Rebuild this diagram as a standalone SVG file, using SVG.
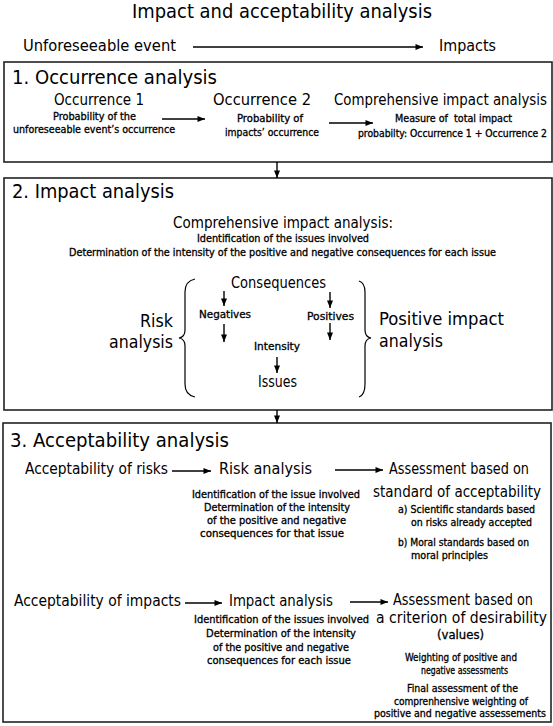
<svg xmlns="http://www.w3.org/2000/svg" width="553" height="726" viewBox="0 0 553 726">
<defs>
<marker id="ah" viewBox="0 0 10 8" refX="10" refY="4" markerWidth="9" markerHeight="6" markerUnits="userSpaceOnUse" orient="auto">
<path d="M0,0 L10,4 L0,8 z" fill="#000"/>
</marker>
<style>
text{font-family:"DejaVu Sans Condensed","DejaVu Sans","Liberation Sans",sans-serif;fill:#000}
.h{font-size:19px}
.m{font-size:15px}
.l{font-size:16px}
.x{font-size:18px}
.s{font-size:10.5px;stroke:#000;stroke-width:0.3}
.box{fill:#fff;stroke:#222;stroke-width:1.6}
.c line{stroke:#000;stroke-width:1.4;fill:none;marker-end:url(#ah)}
.br{stroke:#000;stroke-width:1.2;fill:none}
</style>
</defs>
<rect width="553" height="726" fill="#fff"/>

<g id="header">
<text class="h" x="132" y="18" textLength="300" lengthAdjust="spacingAndGlyphs">Impact and acceptability analysis</text>
<text class="m" x="23" y="51" textLength="153" lengthAdjust="spacingAndGlyphs" style="font-size:15.5px">Unforeseeable event</text>
<text class="m" x="439" y="51" textLength="57" lengthAdjust="spacingAndGlyphs" style="font-size:15.5px">Impacts</text>
</g>

<g id="box1">
<rect class="box" x="4" y="62" width="548" height="100"/>
<text class="h" x="12" y="84" textLength="205" lengthAdjust="spacingAndGlyphs">1. Occurrence analysis</text>
<text class="m" x="54" y="105" textLength="90" lengthAdjust="spacingAndGlyphs">Occurrence 1</text>
<text class="s" x="53" y="120" textLength="83" lengthAdjust="spacingAndGlyphs">Probability of the</text>
<text class="s" x="13" y="133" textLength="162" lengthAdjust="spacingAndGlyphs">unforeseeable event’s occurrence</text>
<text class="m" x="213" y="105" textLength="98" lengthAdjust="spacingAndGlyphs">Occurrence 2</text>
<text class="s" x="237" y="122" textLength="66" lengthAdjust="spacingAndGlyphs">Probability of</text>
<text class="s" x="225" y="136" textLength="94" lengthAdjust="spacingAndGlyphs">impacts’ occurrence</text>
<text class="m" x="334" y="105" textLength="213" lengthAdjust="spacingAndGlyphs">Comprehensive impact analysis</text>
<text class="s" x="395" y="122" textLength="117" lengthAdjust="spacingAndGlyphs" xml:space="preserve">Measure of  total impact</text>
<text class="s" x="358" y="137" textLength="189" lengthAdjust="spacingAndGlyphs">probabilty: Occurrence 1 + Occurrence 2</text>
</g>

<g id="box2">
<rect class="box" x="4" y="178" width="548" height="232"/>
<text class="h" x="12" y="198" textLength="162" lengthAdjust="spacingAndGlyphs">2. Impact analysis</text>
<text class="m" x="173" y="228" textLength="220" lengthAdjust="spacingAndGlyphs">Comprehensive impact analysis:</text>
<text class="s" x="197" y="242" textLength="172" lengthAdjust="spacingAndGlyphs">Identification of the issues involved</text>
<text class="s" x="69" y="256" textLength="427" lengthAdjust="spacingAndGlyphs">Determination of the intensity of the positive and negative consequences for each issue</text>
<text class="l" x="231" y="288" textLength="95" lengthAdjust="spacingAndGlyphs">Consequences</text>
<text class="s" x="199" y="318" textLength="52" lengthAdjust="spacingAndGlyphs" style="font-size:11px">Negatives</text>
<text class="s" x="307" y="320" textLength="47" lengthAdjust="spacingAndGlyphs" style="font-size:11px">Positives</text>
<text class="s" x="254" y="350" textLength="46" lengthAdjust="spacingAndGlyphs" style="font-size:11px">Intensity</text>
<text class="l" x="258" y="387" textLength="39" lengthAdjust="spacingAndGlyphs">Issues</text>
<text class="x" x="140" y="327" textLength="33" lengthAdjust="spacingAndGlyphs">Risk</text>
<text class="x" x="109" y="348" textLength="64" lengthAdjust="spacingAndGlyphs">analysis</text>
<text class="x" x="379" y="325" textLength="125" lengthAdjust="spacingAndGlyphs">Positive impact</text>
<text class="x" x="379" y="347" textLength="64" lengthAdjust="spacingAndGlyphs">analysis</text>
<path class="br" d="M195,279 Q185,281 185,292 L185,330 Q185,337 179,338 Q185,339 185,346 L185,384 Q185,395 195,397"/>
<path class="br" d="M359,281 Q365,283 365,292 L365,330 Q365,337 371,338 Q365,339 365,346 L365,384 Q365,395 359,397"/>
</g>

<g id="box3">
<rect class="box" x="3" y="423" width="548" height="299"/>
<text class="h" x="10" y="447" textLength="219" lengthAdjust="spacingAndGlyphs">3. Acceptability analysis</text>
<text class="l" x="25" y="474" textLength="143" lengthAdjust="spacingAndGlyphs">Acceptability of risks</text>
<text class="l" x="219" y="474" textLength="93" lengthAdjust="spacingAndGlyphs">Risk analysis</text>
<text class="l" x="389" y="474" textLength="140" lengthAdjust="spacingAndGlyphs">Assessment based on</text>
<text class="l" x="373" y="497" textLength="168" lengthAdjust="spacingAndGlyphs">standard of acceptability</text>
<text class="s" x="192" y="498" textLength="168" lengthAdjust="spacingAndGlyphs">Identification of the issue involved</text>
<text class="s" x="204" y="511" textLength="146" lengthAdjust="spacingAndGlyphs">Determination of the intensity</text>
<text class="s" x="207" y="524" textLength="139" lengthAdjust="spacingAndGlyphs">of the positive and negative</text>
<text class="s" x="200" y="537" textLength="144" lengthAdjust="spacingAndGlyphs">consequences for that issue</text>
<text class="s" x="398" y="513" textLength="137" lengthAdjust="spacingAndGlyphs">a) Scientific standards based</text>
<text class="s" x="411" y="526" textLength="121" lengthAdjust="spacingAndGlyphs">on risks already accepted</text>
<text class="s" x="398" y="546" textLength="131" lengthAdjust="spacingAndGlyphs">b) Moral standards based on</text>
<text class="s" x="411" y="559" textLength="77" lengthAdjust="spacingAndGlyphs">moral principles</text>
<text class="l" x="14" y="606" textLength="167" lengthAdjust="spacingAndGlyphs">Acceptability of impacts</text>
<text class="l" x="229" y="606" textLength="104" lengthAdjust="spacingAndGlyphs">Impact analysis</text>
<text class="l" x="393" y="605" textLength="140" lengthAdjust="spacingAndGlyphs">Assessment based on</text>
<text class="l" x="376" y="623" textLength="171" lengthAdjust="spacingAndGlyphs">a criterion of desirability</text>
<text class="s" x="437" y="639" textLength="47" lengthAdjust="spacingAndGlyphs" style="font-size:12px">(values)</text>
<text class="s" x="194" y="623" textLength="175" lengthAdjust="spacingAndGlyphs">Identification of the issues involved</text>
<text class="s" x="206" y="637" textLength="150" lengthAdjust="spacingAndGlyphs">Determination of the intensity</text>
<text class="s" x="213" y="651" textLength="136" lengthAdjust="spacingAndGlyphs">of the positive and negative</text>
<text class="s" x="207" y="664" textLength="144" lengthAdjust="spacingAndGlyphs">consequences for each issue</text>
<text class="s" x="405" y="661" textLength="112" lengthAdjust="spacingAndGlyphs">Weighting of positive and</text>
<text class="s" x="421" y="674" textLength="87" lengthAdjust="spacingAndGlyphs">negative assessments</text>
<text class="s" x="407" y="692" textLength="111" lengthAdjust="spacingAndGlyphs">Final assessment of the</text>
<text class="s" x="394" y="705" textLength="134" lengthAdjust="spacingAndGlyphs">comprenhensive weighting of</text>
<text class="s" x="374" y="717" textLength="172" lengthAdjust="spacingAndGlyphs">positive and negative assessements</text>
</g>

<g id="connectors" class="c">
<line x1="193" y1="47" x2="423" y2="47"/>
<line x1="162" y1="119" x2="205" y2="119"/>
<line x1="329" y1="123" x2="373" y2="123"/>
<line x1="277" y1="162" x2="277" y2="178"/>
<line x1="224" y1="291" x2="224" y2="306"/>
<line x1="224" y1="324" x2="224" y2="342"/>
<line x1="330" y1="292" x2="330" y2="308"/>
<line x1="330" y1="323" x2="330" y2="340"/>
<line x1="277" y1="357" x2="277" y2="373"/>
<line x1="277" y1="410" x2="277" y2="423"/>
<line x1="172" y1="471" x2="211" y2="471"/>
<line x1="335" y1="470" x2="383" y2="470"/>
<line x1="185" y1="603" x2="222" y2="603"/>
<line x1="350" y1="602" x2="388" y2="602"/>
</g>
</svg>
